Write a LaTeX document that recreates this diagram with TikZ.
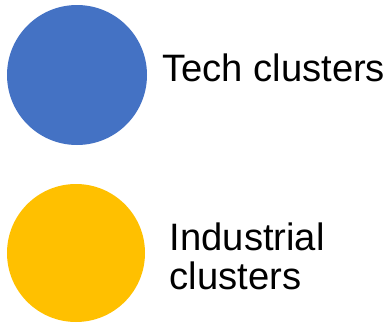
\documentclass[tikz,border=0pt]{standalone}
\usepackage{fontspec}
\setmainfont{Liberation Sans}
\begin{document}
\begin{tikzpicture}[x=1pt,y=-1pt,
  dot/.style={circle,inner sep=0pt,minimum size=#1},
  lbl/.style={inner sep=0pt,anchor=base west,align=left,font=\fontsize{38.2pt}{39pt}\selectfont}]
\useasboundingbox (0,0) rectangle (391,324);
\definecolor{techblue}{HTML}{4472C4}
\definecolor{indyellow}{HTML}{FFC000}
\node[dot=140pt,fill=techblue] (tech) at (77,75) {};
\node[dot=138pt,fill=indyellow] (ind) at (76,253) {};
\node[lbl] (techlbl) at (162,81) {Tech clusters};
\node[lbl] (indlbl) at (169.5,289) {Industrial\\clusters};
\end{tikzpicture}
\end{document}
